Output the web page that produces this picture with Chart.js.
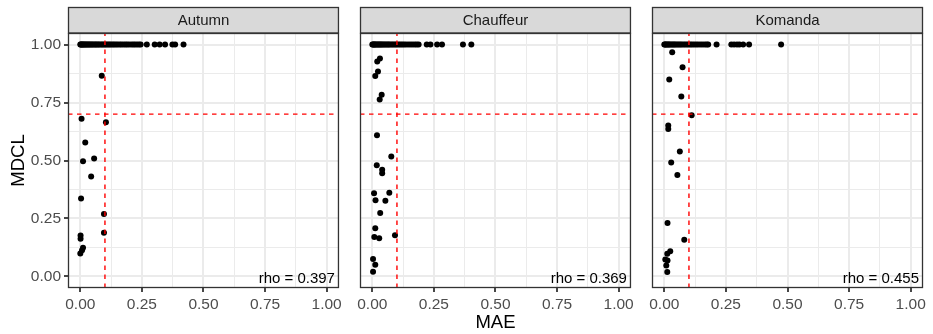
<!DOCTYPE html>
<html>
<head>
<meta charset="utf-8">
<script src="https://cdn.jsdelivr.net/npm/chart.js@4/dist/chart.umd.min.js"></script>
<style>
  html, body { margin: 0; padding: 0; background: #fff; }
  #wrap { position: relative; width: 933px; height: 334px; overflow: hidden; }
  canvas { position: absolute; top: 0; }
</style>
</head>
<body>
<div id="wrap">
  <canvas id="p1" width="345" height="334" style="left:0px"></canvas>
  <canvas id="p2" width="292" height="334" style="left:345px"></canvas>
  <canvas id="p3" width="296" height="334" style="left:637px"></canvas>
</div>
<script>
const panelNames = ["Autumn", "Chauffeur", "Komanda"];
const rhoValues = [0.397, 0.369, 0.455];
const maeCut = 0.1;
const mdclCut = 0.7;
const tickValues = [0, 0.125, 0.25, 0.375, 0.5, 0.625, 0.75, 0.875, 1];

// points sitting on MDCL = 1.00
const autumnTopMae = [0, 0.002, 0.005, 0.008, 0.011, 0.014, 0.018, 0.021, 0.025, 0.029, 0.033, 0.037, 0.041, 0.046, 0.05, 0.055, 0.06, 0.064, 0.069, 0.074, 0.079, 0.085, 0.09, 0.096, 0.101, 0.107, 0.113, 0.119, 0.125, 0.132, 0.138, 0.145, 0.152, 0.16, 0.167, 0.175, 0.183, 0.19, 0.198, 0.207, 0.215, 0.222, 0.23, 0.238, 0.245, 0.27, 0.302, 0.322, 0.344, 0.374, 0.385, 0.419];
const chauffeurTopMae = [0, 0.003, 0.006, 0.009, 0.012, 0.016, 0.02, 0.024, 0.028, 0.032, 0.036, 0.04, 0.045, 0.05, 0.055, 0.06, 0.065, 0.07, 0.076, 0.082, 0.088, 0.094, 0.1, 0.107, 0.114, 0.121, 0.128, 0.136, 0.145, 0.154, 0.163, 0.172, 0.18, 0.188, 0.221, 0.236, 0.263, 0.283, 0.368, 0.402];
const komandaTopMae = [0, 0.003, 0.006, 0.01, 0.014, 0.018, 0.022, 0.027, 0.032, 0.037, 0.042, 0.047, 0.053, 0.059, 0.065, 0.071, 0.078, 0.085, 0.092, 0.099, 0.106, 0.113, 0.121, 0.129, 0.137, 0.146, 0.155, 0.164, 0.172, 0.178, 0.212, 0.272, 0.283, 0.295, 0.305, 0.32, 0.344, 0.474];

// remaining points
const autumnMae = [0.087, 0.005, 0.104, 0.020, 0.056, 0.011, 0.044, 0.003, 0.096, 0.096, 0.001, 0.001, 0.011, 0.007, 0.000];
const autumnMdcl = [0.866, 0.680, 0.665, 0.578, 0.509, 0.497, 0.431, 0.336, 0.269, 0.188, 0.177, 0.162, 0.124, 0.113, 0.099];
const chauffeurMae = [0.020, 0.031, 0.023, 0.012, 0.038, 0.030, 0.019, 0.077, 0.018, 0.040, 0.040, 0.007, 0.069, 0.013, 0.053, 0.032, 0.012, 0.008, 0.028, 0.092, 0.003, 0.012, 0.003];
const chauffeurMdcl = [0.927, 0.940, 0.884, 0.864, 0.784, 0.763, 0.609, 0.517, 0.480, 0.460, 0.445, 0.359, 0.361, 0.329, 0.326, 0.273, 0.208, 0.170, 0.165, 0.178, 0.075, 0.050, 0.020];
const komandaMae = [0.032, 0.074, 0.020, 0.069, 0.111, 0.016, 0.016, 0.063, 0.028, 0.053, 0.013, 0.081, 0.024, 0.012, 0.004, 0.013, 0.008, 0.012];
const komandaMdcl = [0.967, 0.902, 0.849, 0.776, 0.695, 0.651, 0.636, 0.539, 0.491, 0.437, 0.230, 0.158, 0.108, 0.098, 0.073, 0.069, 0.047, 0.019];

const topRows = [autumnTopMae, chauffeurTopMae, komandaTopMae];
const maeSets = [autumnMae, chauffeurMae, komandaMae];
const mdclSets = [autumnMdcl, chauffeurMdcl, komandaMdcl];

const FONT = "'Liberation Sans', Arial, Helvetica, sans-serif";
const isMajor = (i) => i % 2 === 0;

// strip on top, dark panel border, rho label
const facetPlugin = {
    id: "facet",
    afterDraw(chart, args, opts) {
        const { ctx, chartArea } = chart;
        const a = chartArea;
        ctx.save();
        // strip
        ctx.fillStyle = "#D9D9D9";
        ctx.fillRect(a.left, 7, a.right - a.left, a.top - 7);
        ctx.strokeStyle = "#333333";
        ctx.lineWidth = 1.3;
        ctx.strokeRect(a.left + 0.5, 7.5, a.right - a.left - 1, a.top - 7.5);
        ctx.fillStyle = "#1A1A1A";
        ctx.font = "15px " + FONT;
        ctx.textAlign = "center";
        ctx.textBaseline = "middle";
        ctx.fillText(opts.name, (a.left + a.right) / 2, (7 + a.top) / 2 + 0.5);
        // panel border
        ctx.strokeRect(a.left + 0.5, a.top + 0.5, a.right - a.left - 1, a.bottom - a.top - 1);
        // rho
        ctx.fillStyle = "#000";
        ctx.textAlign = "right";
        ctx.textBaseline = "alphabetic";
        ctx.fillText("rho = " + opts.rho.toFixed(3), a.right - 4, chart.scales.y.getPixelForValue(0) + 6.5);
        ctx.restore();
    },
};

function makePanel(id, k, yWidth, padRight) {
    const pts = topRows[k].map((v) => ({ x: v, y: 1 }));
    maeSets[k].forEach((v, i) => pts.push({ x: v, y: mdclSets[k][i] }));
    const first = k === 0;
    const middle = k === 1;

    new Chart(document.getElementById(id), {
        type: "scatter",
        data: {
            datasets: [
                {
                    data: [{ x: maeCut, y: -0.05 }, { x: maeCut, y: 1.05 }],
                    showLine: true, borderColor: "#FF0000", borderWidth: 1.4,
                    borderDash: [4.5, 4.5], pointRadius: 0,
                },
                {
                    data: [{ x: -0.05, y: mdclCut }, { x: 1.05, y: mdclCut }],
                    showLine: true, borderColor: "#FF0000", borderWidth: 1.4,
                    borderDash: [4.5, 4.5], pointRadius: 0,
                },
                {
                    data: pts,
                    backgroundColor: "#000", borderWidth: 0, pointRadius: 3,
                },
            ],
        },
        options: {
            responsive: false,
            animation: false,
            events: [],
            layout: { padding: { top: 33, right: padRight, left: 0, bottom: 0 } },
            scales: {
                x: {
                    type: "linear", min: -0.05, max: 1.05,
                    afterBuildTicks: (s) => { s.ticks = tickValues.map((v) => ({ value: v })); },
                    afterFit: (s) => { s.height = 46; },
                    grid: {
                        color: "#EBEBEB",
                        lineWidth: (c) => (isMajor(c.index) ? 2 : 1),
                        tickColor: (c) => (isMajor(c.index) ? "#333333" : "rgba(0,0,0,0)"),
                        tickLength: 4,
                        tickWidth: 1.8,
                    },
                    border: { display: false },
                    ticks: {
                        autoSkip: false, maxRotation: 0, minRotation: 0, padding: 3,
                        color: "#4D4D4D", font: { family: FONT, size: 15.5 },
                        callback: (v, i) => (isMajor(i) ? v.toFixed(2) : ""),
                    },
                    title: {
                        display: middle, text: "MAE", color: "#000",
                        font: { family: FONT, size: 18.5 }, padding: { top: 0, bottom: 0 },
                    },
                },
                y: {
                    type: "linear", min: -0.05, max: 1.05,
                    afterBuildTicks: (s) => { s.ticks = tickValues.map((v) => ({ value: v })); },
                    afterFit: (s) => { s.width = yWidth; },
                    grid: {
                        color: "#EBEBEB",
                        lineWidth: (c) => (isMajor(c.index) ? 2 : 1),
                        tickColor: (c) => (first && isMajor(c.index) ? "#333333" : "rgba(0,0,0,0)"),
                        tickLength: 4,
                        tickWidth: 1.8,
                    },
                    border: { display: false },
                    ticks: {
                        display: first, autoSkip: false, padding: 3,
                        color: "#4D4D4D", font: { family: FONT, size: 15.5 },
                        callback: (v, i) => (isMajor(i) ? v.toFixed(2) : ""),
                    },
                    title: {
                        display: first, text: "MDCL", color: "#000",
                        font: { family: FONT, size: 18.5 }, padding: { top: 8, bottom: 0 },
                    },
                },
            },
            plugins: {
                legend: { display: false },
                tooltip: { enabled: false },
                facet: { name: panelNames[k], rho: rhoValues[k] },
            },
        },
        plugins: [facetPlugin],
    });
}

makePanel("p1", 0, 68, 6);
makePanel("p2", 1, 15, 6);
makePanel("p3", 2, 15, 10);
</script>
</body>
</html>
